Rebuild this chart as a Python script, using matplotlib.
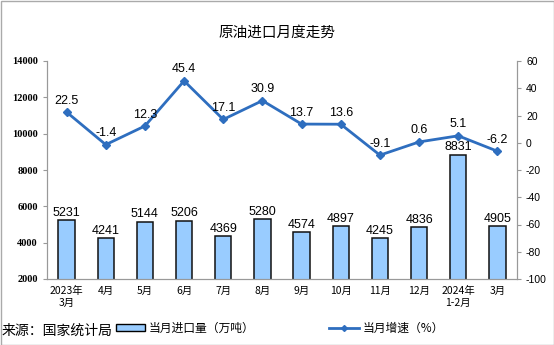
import numpy as np
import matplotlib.pyplot as plt
from matplotlib.patches import Rectangle
from matplotlib.lines import Line2D

plt.rcParams['font.family'] = ['Noto Sans CJK SC', 'DejaVu Sans']
plt.rcParams['axes.unicode_minus'] = False

# data
months = ["2023年\n3月", "4月", "5月", "6月", "7月", "8月", "9月",
          "10月", "11月", "12月", "2024年\n1-2月", "3月"]
imports = [5231, 4241, 5144, 5206, 4369, 5280, 4574, 4897, 4245, 4836, 8831, 4905]
growth = [22.5, -1.4, 12.3, 45.4, 17.1, 30.9, 13.7, 13.6, -9.1, 0.6, 5.1, -6.2]

bar_face = "#99CCFF"
line_col = "#2E6EBF"

fig = plt.figure(figsize=(5.54, 3.45), dpi=100)
ax = fig.add_axes([47/554, 1 - 279/345, 470/554, 218/345])
ax2 = ax.twinx()

x = np.arange(len(months))
ax.bar(x, imports, width=0.42, bottom=0, color=bar_face, edgecolor="#111111", linewidth=1.1, zorder=2)
for xi, v in zip(x, imports):
    ax.text(xi, v + 80, str(v), ha="center", va="bottom", fontsize=9, family=["Liberation Sans"])

ax.set_ylim(2000, 14000)
ax.set_yticks(range(2000, 14001, 2000))
ax.set_xlim(-0.5, len(months) - 0.5)
ax.set_xticks(x)
ax.set_xticklabels(months, fontsize=7.5, linespacing=1.3)
ax.tick_params(axis="x", length=0, pad=5)
ax.tick_params(axis="y", labelsize=7.5, length=3, color="#999999")
for lab in ax.get_yticklabels():
    lab.set_family(["Liberation Serif"])
    lab.set_fontweight("bold")

ax2.plot(x, growth, color=line_col, lw=2, marker="D", ms=4.5, zorder=3)
for xi, v in zip(x, growth):
    ax2.text(xi, v + 4, f"{v:.1f}", ha="center", va="bottom", fontsize=9, family=["Liberation Sans"])
ax2.set_ylim(-100, 60)
ax2.set_yticks(range(-100, 61, 20))
ax2.tick_params(axis="y", labelsize=7.5, length=3, color="#999999")
for lab in ax2.get_yticklabels():
    lab.set_family(["Liberation Sans"])

for a in (ax, ax2):
    a.spines["top"].set_visible(False)
    for s in ("left", "right", "bottom"):
        a.spines[s].set_color("#999999")
        a.spines[s].set_linewidth(0.8)

fig.text(0.5, 1 - 33/345, "原油进口月度走势", ha="center", va="center", fontsize=10.5)
fig.text(2/554, 1 - 331/345, "来源：国家统计局", ha="left", va="center", fontsize=10)

handles = [Rectangle((0, 0), 1, 1, facecolor=bar_face, edgecolor="black", lw=1),
           Line2D([0], [0], color=line_col, lw=2, marker="D", ms=3)]
fig.legend(handles, ["当月进口量（万吨）", "当月增速（%）"], loc="center",
           bbox_to_anchor=(0.505, 1 - 328/345), ncol=2, frameon=False, fontsize=8.5,
           handlelength=2.5, handleheight=0.5, columnspacing=6.3, handletextpad=0.3)

fig.patches.append(Rectangle((0.5/554, 0.5/345), 1 - 1/554, 1 - 1/345, transform=fig.transFigure,
                             fill=False, edgecolor="#AAAAAA", lw=1))

fig.savefig("out.png", dpi=100)
